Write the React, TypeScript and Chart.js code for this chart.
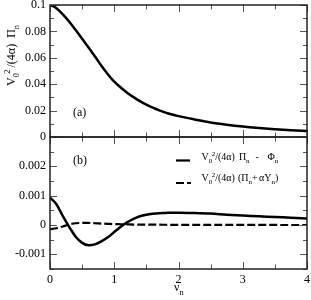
import React, { useEffect, useRef } from 'react';
import { Chart, registerables } from 'chart.js';
Chart.register(...registerables);

// ν_n sample points
const nuTop = [0, 0.1, 0.2, 0.3, 0.4, 0.5, 0.6, 0.7, 0.8, 0.9, 1.0, 1.1, 1.2, 1.3, 1.4, 1.5, 1.6, 1.7, 1.8, 1.9, 2.0, 2.25, 2.5, 2.75, 3.0, 3.25, 3.5, 3.75, 4.0];
// panel (a): V0^2/(4α) Π_n
const piN = [0.1, 0.0976, 0.0929, 0.0873, 0.081, 0.0745, 0.0678, 0.061, 0.054, 0.0476, 0.0419, 0.0375, 0.0336, 0.0302, 0.0272, 0.0245, 0.0222, 0.0202, 0.0185, 0.017, 0.0158, 0.0133, 0.011, 0.0093, 0.0079, 0.0068, 0.0059, 0.0051, 0.0045];
// panel (b): V0^2/(4α) Π_n - Φ_n
const piMinusPhi = [0.00093, 0.00071, 0.0003, -0.00007, -0.0004, -0.00061, -0.00069, -0.00066, -0.00056, -0.00042, -0.00024, -0.00006, 0.00009, 0.00021, 0.0003, 0.00035, 0.00038, 0.0004, 0.00041, 0.00042, 0.00042, 0.00041, 0.00039, 0.00035, 0.00032, 0.0003, 0.00027, 0.00025, 0.00022];
// panel (b): V0^2/(4α) (Π_n + αY_n)
const piPlusAlphaY = [-0.00014, -0.00011, -0.00005, 0.00002, 0.00006, 0.00007, 0.00007, 0.00006, 0.00005, 0.00004, 0.00003, 0.000025, 0.00002, 0.000015, 0.000012, 0.00001, 0.00001, 0.00001, 0.000008, 0.000006, 0.000005, 0.000004, 0.000003, 0.000002, 0.000002, 0.000001, 0.000001, 0, 0];

const xMin = 0, xMax = 4, xStep = 0.5;
const yTopMin = 0, yTopMax = 0.1, yTopStep = 0.01, yTopLabelStep = 0.02;
const yBotMin = -0.0015, yBotMax = 0.003, yBotStep = 0.0005, yBotLabelStep = 0.001, yBotLabelMax = 0.002;

const FONT = '"Liberation Serif", "Times New Roman", Times, serif';

type Seg = { t: string; s?: 'sub' | 'sup'; dx?: number };

function drawRich(ctx: CanvasRenderingContext2D, segs: Seg[], x: number, y: number, size: number) {
  let cx = x;
  ctx.textBaseline = 'alphabetic';
  ctx.textAlign = 'left';
  for (const sg of segs) {
    cx += sg.dx || 0;
    const fs = sg.s ? size * 0.7 : size;
    ctx.font = `${fs}px ${FONT}`;
    const dy = sg.s === 'sub' ? size * 0.3 : sg.s === 'sup' ? -size * 0.45 : 0;
    ctx.fillText(sg.t, cx, y + dy);
    cx += ctx.measureText(sg.t).width;
  }
}

const isMult = (v: number, step: number) => Math.abs(v / step - Math.round(v / step)) < 1e-6;
const fmt = (v: number) => String(Number(v.toFixed(5)));

const zeroPad = (s: any) => {
  s.paddingTop = 0;
  s.paddingBottom = 0;
  s.paddingLeft = 0;
  s.paddingRight = 0;
};

const framePlugin = {
  id: 'frameTicks',
  afterDatasetsDraw(chart: any) {
    const { ctx, chartArea: a, scales } = chart;
    ctx.save();
    ctx.strokeStyle = '#555';
    ctx.lineWidth = 1;
    const seg = (x1: number, y1: number, x2: number, y2: number) => {
      ctx.beginPath();
      ctx.moveTo(x1, y1);
      ctx.lineTo(x2, y2);
      ctx.stroke();
    };
    const ys = scales.y;
    for (const t of ys.ticks) {
      const py = Math.round(ys.getPixelForValue(t.value)) + 0.5;
      const major = t.label !== '' && t.label !== undefined;
      const len = major ? 7 : 4;
      seg(a.left, py, a.left + len, py);
      seg(a.right, py, a.right - len, py);
    }
    const xs = scales.x;
    for (const t of xs.ticks) {
      const px = Math.round(xs.getPixelForValue(t.value)) + 0.5;
      const major = isMult(t.value, 1);
      const len = major ? 7 : 4.5;
      seg(px, a.top, px, a.top + len);
      seg(px, a.bottom, px, a.bottom - len);
    }
    ctx.strokeStyle = '#222';
    ctx.lineWidth = 1.5;
    ctx.strokeRect(a.left, a.top, a.right - a.left, a.bottom - a.top);
    ctx.restore();
  },
};

const topTextPlugin = {
  id: 'topText',
  afterDraw(chart: any) {
    const ctx: CanvasRenderingContext2D = chart.ctx;
    ctx.save();
    ctx.fillStyle = '#000';
    ctx.font = `12px ${FONT}`;
    ctx.fillText('(a)', 73, 116);
    ctx.translate(15, 86);
    ctx.rotate(-Math.PI / 2);
    drawRich(ctx, [
      { t: 'V' }, { t: '0', s: 'sub' }, { t: '2', s: 'sup', dx: -0.5 },
      { t: '/(4α)', dx: 2 }, { t: 'Π', dx: 6 }, { t: 'n', s: 'sub' },
    ], 0, 0, 12);
    ctx.restore();
  },
};

const botTextPlugin = {
  id: 'botText',
  afterDraw(chart: any) {
    const ctx: CanvasRenderingContext2D = chart.ctx;
    ctx.save();
    ctx.fillStyle = '#000';
    ctx.font = `12px ${FONT}`;
    ctx.textBaseline = 'alphabetic';
    ctx.fillText('(b)', 73, 34);
    // x-axis title
    drawRich(ctx, [{ t: 'ν' }, { t: 'n', s: 'sub' }], 174, 161, 12);
    // legend
    ctx.strokeStyle = '#000';
    ctx.lineWidth = 2.2;
    ctx.beginPath();
    ctx.moveTo(176, 30.5);
    ctx.lineTo(190, 30.5);
    ctx.stroke();
    ctx.setLineDash([8, 3]);
    ctx.beginPath();
    ctx.moveTo(176, 53);
    ctx.lineTo(191, 53);
    ctx.stroke();
    ctx.setLineDash([]);
    const pre: Seg[] = [{ t: 'V' }, { t: '0', s: 'sub' }, { t: '2', s: 'sup', dx: -0.5 }, { t: '/(4α)' }];
    drawRich(ctx, [...pre, { t: 'Π', dx: 4 }, { t: 'n', s: 'sub' }, { t: '-', dx: 6 }, { t: 'Φ', dx: 8.5 }, { t: 'n', s: 'sub' }], 201.5, 30, 10);
    drawRich(ctx, [...pre, { t: '(', dx: 3 }, { t: 'Π' }, { t: 'n', s: 'sub' }, { t: '+' }, { t: 'α', dx: 1.5 }, { t: 'Y' }, { t: 'n', s: 'sub' }, { t: ')' }], 201.5, 51, 10);
    ctx.restore();
  },
};

export default function App() {
  const topRef = useRef<HTMLCanvasElement>(null);
  const botRef = useRef<HTMLCanvasElement>(null);

  useEffect(() => {
    const tickFont = { family: FONT, size: 12 };
    const top = new Chart(topRef.current!, {
      type: 'line',
      data: {
        datasets: [
          {
            data: nuTop.map((x, i) => ({ x, y: piN[i] })),
            borderColor: '#000',
            borderWidth: 2.5,
            pointRadius: 0,
            fill: false,
            cubicInterpolationMode: 'monotone',
          },
        ],
      },
      options: {
        animation: false,
        responsive: false,
        maintainAspectRatio: false,
        layout: { padding: { left: 0, right: 4, top: 5, bottom: 0 } },
        plugins: { legend: { display: false }, tooltip: { enabled: false } },
        scales: {
          x: {
            type: 'linear', min: xMin, max: xMax,
            ticks: { display: false, stepSize: xStep },
            grid: { display: false, drawTicks: false },
            border: { display: false },
            afterFit: (s: any) => { s.height = 3; zeroPad(s); },
          },
          y: {
            type: 'linear', min: yTopMin, max: yTopMax,
            ticks: {
              stepSize: yTopStep, autoSkip: false, padding: 4, color: '#000', font: tickFont,
              callback: (v: any) => (isMult(Number(v), yTopLabelStep) ? fmt(Number(v)) : ''),
            },
            grid: { display: false, drawTicks: false },
            border: { display: false },
            afterFit: (s: any) => { s.width = 50; zeroPad(s); },
          },
        },
      } as any,
      plugins: [framePlugin, topTextPlugin],
    });

    const bot = new Chart(botRef.current!, {
      type: 'line',
      data: {
        datasets: [
          {
            data: nuTop.map((x, i) => ({ x, y: piPlusAlphaY[i] })),
            borderColor: '#000',
            borderWidth: 2.2,
            borderDash: [8, 3],
            pointRadius: 0,
            fill: false,
            cubicInterpolationMode: 'monotone',
          },
          {
            data: nuTop.map((x, i) => ({ x, y: piMinusPhi[i] })),
            borderColor: '#000',
            borderWidth: 2.5,
            pointRadius: 0,
            fill: false,
            cubicInterpolationMode: 'monotone',
          },
        ],
      },
      options: {
        animation: false,
        responsive: false,
        maintainAspectRatio: false,
        layout: { padding: { left: 0, right: 4, top: 7, bottom: 0 } },
        plugins: { legend: { display: false }, tooltip: { enabled: false } },
        scales: {
          x: {
            type: 'linear', min: xMin, max: xMax,
            ticks: {
              stepSize: xStep, autoSkip: false, maxRotation: 0, padding: 4, color: '#000', font: tickFont,
              callback: (v: any) => (isMult(Number(v), 1) ? fmt(Number(v)) : ''),
            },
            grid: { display: false, drawTicks: false },
            border: { display: false },
            afterFit: (s: any) => { s.height = 31; zeroPad(s); },
          },
          y: {
            type: 'linear', min: yBotMin, max: yBotMax,
            ticks: {
              stepSize: yBotStep, autoSkip: false, padding: 4, color: '#000', font: tickFont,
              callback: (v: any) => {
                const n = Number(v);
                return isMult(n, yBotLabelStep) && n <= yBotLabelMax + 1e-9 ? fmt(n) : '';
              },
            },
            grid: { display: false, drawTicks: false },
            border: { display: false },
            afterFit: (s: any) => { s.width = 50; zeroPad(s); },
          },
        },
      } as any,
      plugins: [framePlugin, botTextPlugin],
    });

    return () => {
      top.destroy();
      bot.destroy();
    };
  }, []);

  return (
    <div style={{ position: 'absolute', left: 0, top: 0, width: 311, height: 300, background: '#fff' }}>
      <canvas ref={topRef} width={311} height={140} style={{ position: 'absolute', left: 0, top: 0, width: 311, height: 140 }} />
      <canvas ref={botRef} width={311} height={170} style={{ position: 'absolute', left: 0, top: 130, width: 311, height: 170 }} />
    </div>
  );
}
